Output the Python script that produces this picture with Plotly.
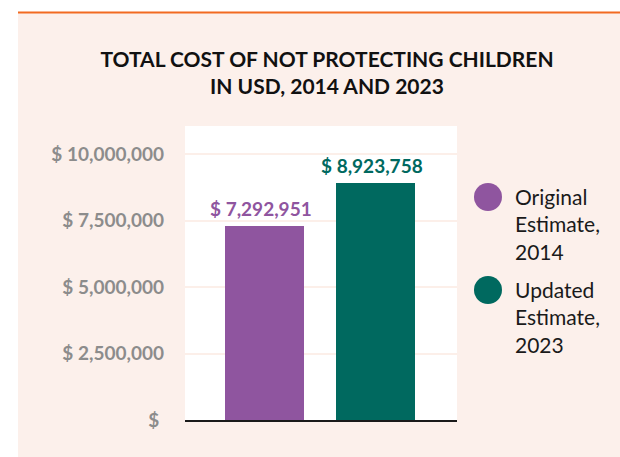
import plotly.graph_objects as go

# ---- data ----
categories = ["Original Estimate, 2014", "Updated Estimate, 2023"]
legend_labels = ["Original<br>Estimate,<br>2014", "Updated<br>Estimate,<br>2023"]
values = [7292951, 8923758]
bar_labels = ["$ 7,292,951", "$ 8,923,758"]
colors = ["#8f559f", "#00695f"]
tick_vals = [0, 2500000, 5000000, 7500000, 10000000]
tick_text = ["$ ", "$ 2,500,000", "$ 5,000,000", "$ 7,500,000", "$ 10,000,000"]
title_text = "TOTAL COST OF NOT PROTECTING CHILDREN<br>IN USD, 2014 AND 2023"

W, H = 620, 457
L, R, T, B = 185, 163, 126, 37
PW, PH = W - L - R, H - T - B
FONT = "Lato"
PEACH = "#fcf0eb"


def px_x(p):
    return (p - L) / PW


def px_y(p):
    return (H - B - p) / PH


fig = go.Figure()
fig.add_trace(go.Bar(
    x=categories, y=values, marker=dict(color=colors, line=dict(width=0)),
    width=0.712, showlegend=False, hoverinfo="skip",
))

annotations = []
for cat, val, lab, col in zip(categories, values, bar_labels, colors):
    annotations.append(dict(x=cat, y=val, xref="x", yref="y", text=lab,
                            showarrow=False, xanchor="center", yanchor="bottom",
                            xshift=-4, yshift=4,
                            font=dict(family=FONT, size=19, color=col, weight="bold")))

shapes = [
    # white page strips outside the peach panel
    dict(type="rect", xref="paper", yref="paper", x0=px_x(0), x1=px_x(W),
         y0=px_y(12), y1=px_y(0), fillcolor="white", line=dict(width=0), layer="below"),
    dict(type="rect", xref="paper", yref="paper", x0=px_x(0), x1=px_x(18),
         y0=px_y(H), y1=px_y(0), fillcolor="white", line=dict(width=0), layer="below"),
    # orange rule
    dict(type="line", xref="paper", yref="paper", x0=px_x(18), x1=px_x(W),
         y0=px_y(12.5), y1=px_y(12.5), line=dict(color="#f26a21", width=2)),
]
legend_centers = [197, 290]
for lab, col, cy in zip(legend_labels, colors, legend_centers):
    shapes.append(dict(type="circle", xref="paper", yref="paper",
                       xsizemode="pixel", ysizemode="pixel",
                       xanchor=px_x(488), yanchor=px_y(cy),
                       x0=-14, x1=14, y0=-14, y1=14,
                       fillcolor=col, line=dict(width=0)))
    annotations.append(dict(text=lab, xref="paper", yref="paper",
                            x=px_x(513), y=px_y(cy - 15), xanchor="left", yanchor="top",
                            align="left", showarrow=False,
                            font=dict(family=FONT, size=21, color="#1a1a1a")))

fig.update_layout(
    width=W, height=H,
    margin=dict(l=L, r=R, t=T, b=B, pad=0),
    paper_bgcolor=PEACH, plot_bgcolor="white",
    title=dict(text=title_text, x=327 / W, xanchor="center",
               y=1 - 67 / H, yanchor="middle", yref="container",
               font=dict(family=FONT, size=21, color="#111111", weight="bold")),
    xaxis=dict(range=[-0.716, 1.7315], showticklabels=False, showgrid=False,
               showline=True, linecolor="#1a1a1a", linewidth=2, ticks="",
               zeroline=False, fixedrange=True),
    yaxis=dict(range=[0, 11.07e6], tickvals=tick_vals, ticktext=tick_text,
               showgrid=True, gridcolor="#fcefe9", gridwidth=1.5, zeroline=False,
               showline=False, ticks="", ticklabelstandoff=20,
               tickfont=dict(family=FONT, size=19, color="#8c8c8c", weight="bold")),
    shapes=shapes, annotations=annotations,
    bargap=0, showlegend=False,
)

fig.write_html("out.html")
